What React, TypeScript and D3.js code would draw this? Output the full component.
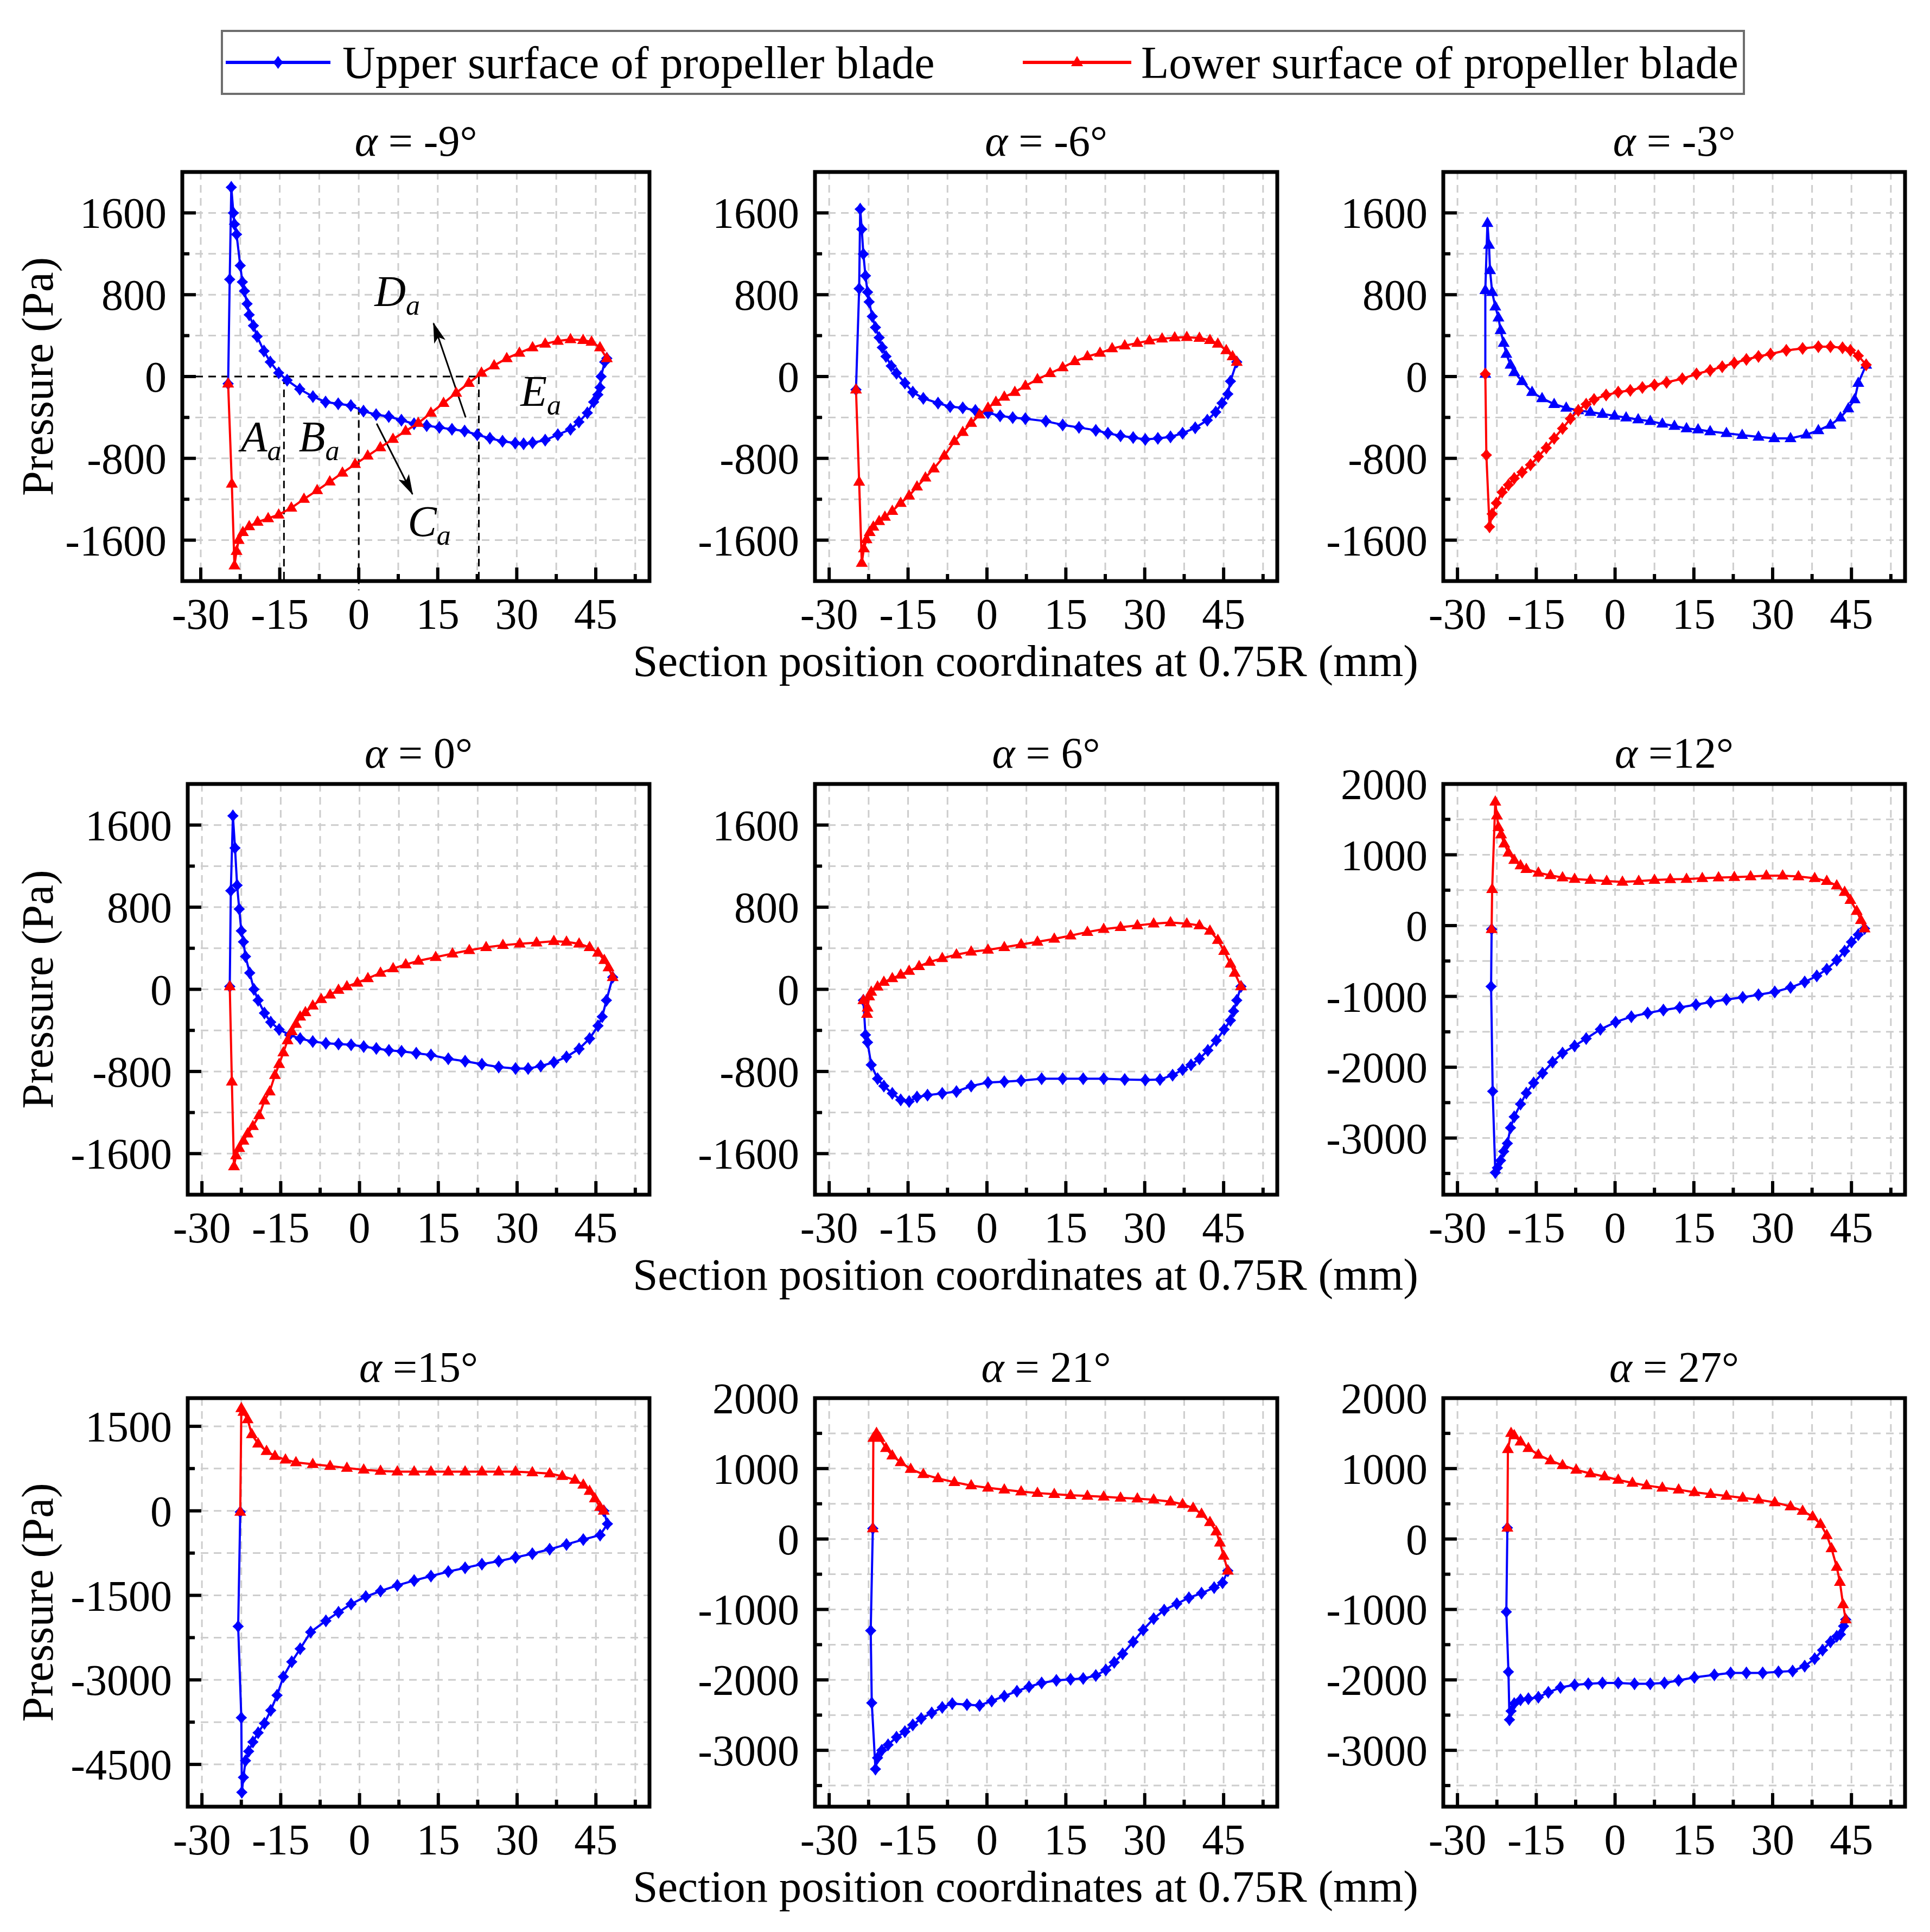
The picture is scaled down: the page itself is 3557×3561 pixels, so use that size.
import React from 'react';
import * as d3 from 'd3';

type Pt = [number, number];

const W = 3557;
const H = 3561;
const FONT = '"Liberation Serif", "Times New Roman", Times, serif';

// ---------------- data (x in mm, pressure in Pa) ----------------
const upperM9: Pt[] = [[-24.8,-70],[-24.5,950],[-24.2,1850],[-23.8,1600],[-23.6,1490],[-23.2,1390],[-22.5,1085],[-22.1,925],[-21.7,836],[-21.2,711],[-20.8,604],[-20.0,498],[-19.3,391],[-18.0,249],[-16.8,142],[-15.2,36],[-13.6,-36],[-11.2,-124],[-8.7,-196],[-6.3,-249],[-3.9,-267],[-1.5,-284],[0.9,-338],[3.3,-373],[5.7,-391],[8.1,-427],[10.5,-462],[12.9,-480],[15.3,-498],[17.7,-516],[20.1,-533],[22.5,-569],[24.9,-604],[27.3,-633],[29.7,-651],[31.3,-658],[33.0,-647],[35.4,-622],[37.8,-569],[40.2,-516],[41.8,-444],[43.4,-356],[44.6,-249],[45.4,-178],[45.8,-107],[46.0,0],[46.7,142],[47.1,178]];
const lowerM9: Pt[] = [[-24.8,-70],[-24.1,-1049],[-23.6,-1849],[-23.2,-1707],[-22.8,-1600],[-22.0,-1522],[-20.8,-1465],[-19.2,-1422],[-17.2,-1387],[-15.2,-1351],[-12.8,-1284],[-10.4,-1198],[-7.9,-1113],[-5.5,-1028],[-3.1,-942],[-0.7,-857],[1.7,-775],[4.1,-693],[6.5,-612],[8.9,-533],[11.3,-455],[13.7,-356],[16.1,-260],[18.5,-160],[20.9,-64],[23.3,36],[25.7,107],[28.1,178],[30.5,231],[33.0,284],[35.4,320],[37.8,348],[40.2,363],[42.6,356],[44.2,338],[45.8,284],[47.1,178]];

const upperM6: Pt[] = [[-24.9,-128],[-24.3,860],[-24.1,1636],[-23.8,1440],[-23.5,1198],[-23.1,985],[-22.7,825],[-22.4,729],[-21.8,587],[-21.2,480],[-20.5,380],[-19.9,284],[-19.2,196],[-18.2,103],[-17.2,32],[-15.6,-64],[-14.1,-153],[-12.1,-213],[-9.3,-260],[-7.0,-295],[-4.6,-306],[-2.2,-331],[0.2,-356],[2.5,-384],[4.9,-402],[7.3,-412],[11.2,-437],[14.4,-473],[17.5,-498],[20.7,-526],[23.0,-555],[25.4,-580],[27.8,-597],[30.1,-615],[32.5,-605],[34.9,-590],[37.2,-555],[39.6,-501],[41.9,-427],[43.5,-348],[44.7,-260],[45.8,-171],[46.3,-46],[47.5,142]];
const lowerM6: Pt[] = [[-24.9,-128],[-24.3,-1031],[-23.8,-1824],[-23.4,-1682],[-22.9,-1593],[-22.3,-1522],[-21.6,-1469],[-20.5,-1415],[-19.4,-1373],[-18.0,-1316],[-16.4,-1237],[-14.8,-1166],[-13.3,-1077],[-11.7,-989],[-10.1,-900],[-8.1,-775],[-6.2,-633],[-4.6,-544],[-3.0,-455],[-1.4,-373],[0.2,-306],[1.7,-249],[3.3,-199],[5.3,-153],[7.3,-92],[9.6,-28],[12.0,32],[14.4,89],[16.7,149],[19.1,196],[21.5,231],[23.8,274],[26.2,302],[28.6,327],[30.9,352],[33.3,370],[35.7,380],[38.0,384],[40.4,377],[42.4,356],[43.9,320],[45.5,256],[46.7,196],[47.5,142]];

const upperM3: Pt[] = [[-24.7,25],[-24.7,843],[-24.3,1500],[-24.0,1287],[-23.8,1038],[-23.4,825],[-22.8,683],[-22.2,576],[-21.8,452],[-21.2,327],[-20.7,220],[-19.9,114],[-19.2,43],[-17.7,-46],[-15.8,-153],[-13.9,-213],[-11.6,-270],[-9.3,-306],[-7.0,-331],[-4.7,-348],[-2.4,-366],[-0.1,-384],[2.1,-402],[4.4,-420],[6.7,-437],[9.0,-462],[11.3,-484],[13.6,-508],[15.8,-519],[18.1,-537],[21.2,-555],[24.2,-573],[27.3,-590],[30.3,-605],[33.4,-605],[36.4,-569],[38.7,-526],[41.0,-473],[42.9,-402],[44.4,-313],[45.6,-224],[46.3,-64],[47.8,114]];
const lowerM3: Pt[] = [[-24.7,25],[-24.5,-768],[-23.9,-1469],[-23.4,-1344],[-22.6,-1237],[-21.5,-1131],[-20.3,-1060],[-19.2,-996],[-17.7,-935],[-16.1,-864],[-14.6,-782],[-13.1,-697],[-11.6,-605],[-10.0,-508],[-8.5,-412],[-7.0,-331],[-5.5,-270],[-4.0,-224],[-1.7,-181],[0.6,-153],[2.9,-135],[5.2,-107],[7.5,-82],[9.8,-57],[12.8,-21],[15.5,25],[18.1,60],[20.4,96],[22.7,132],[25.0,167],[27.3,196],[29.6,220],[32.6,256],[35.7,274],[38.7,292],[41.0,292],[43.3,281],[44.8,256],[46.3,203],[47.8,114]];

const upper0: Pt[] = [[-24.7,28],[-24.5,960],[-24.1,1689],[-23.7,1376],[-23.3,1013],[-22.9,782],[-22.5,569],[-22.1,462],[-21.7,320],[-20.9,160],[-20.1,0],[-19.3,-107],[-18.1,-231],[-16.9,-320],[-15.3,-391],[-13.3,-444],[-11.3,-480],[-8.9,-508],[-6.4,-526],[-4.0,-533],[-1.6,-540],[0.8,-558],[3.2,-576],[5.6,-594],[8.0,-604],[10.8,-622],[13.6,-640],[16.9,-676],[20.1,-700],[23.3,-729],[26.5,-757],[29.7,-772],[32.1,-772],[34.5,-747],[37.0,-711],[39.4,-658],[41.8,-580],[43.8,-480],[45.4,-356],[46.2,-267],[47.0,-107],[48.2,117]];
const lower0: Pt[] = [[-24.7,28],[-24.3,-900],[-23.9,-1725],[-23.5,-1618],[-22.9,-1547],[-22.1,-1476],[-21.3,-1405],[-20.3,-1333],[-19.1,-1227],[-18.1,-1085],[-17.1,-996],[-16.1,-836],[-15.3,-729],[-14.5,-615],[-13.7,-498],[-12.9,-409],[-12.1,-338],[-11.3,-267],[-10.3,-224],[-8.9,-160],[-7.3,-96],[-5.6,-53],[-4.0,-7],[-2.4,28],[-0.4,64],[1.6,107],[4.0,160],[6.4,203],[8.8,242],[11.2,277],[14.5,313],[17.7,348],[20.9,380],[24.1,409],[27.3,430],[30.5,444],[33.7,455],[37.0,469],[39.4,462],[41.8,444],[43.8,409],[45.4,356],[46.6,284],[47.4,213],[48.2,117]];

const upper6: Pt[] = [[-23.5,-107],[-23.1,-444],[-22.7,-516],[-22.0,-736],[-20.8,-871],[-19.6,-942],[-18.0,-1013],[-16.4,-1077],[-14.8,-1092],[-13.3,-1049],[-11.3,-1031],[-8.5,-1013],[-5.8,-996],[-3.0,-942],[0.2,-907],[3.3,-900],[6.5,-889],[10.4,-871],[14.4,-871],[18.3,-871],[22.2,-871],[26.2,-878],[30.1,-882],[32.9,-878],[35.3,-836],[37.2,-782],[38.8,-736],[40.4,-676],[42.0,-594],[43.6,-498],[45.1,-391],[46.3,-302],[46.9,-213],[47.5,-107],[48.3,28]];
const lower6: Pt[] = [[-23.5,-107],[-22.8,-240],[-22.7,-180],[-22.4,-70],[-22.0,-25],[-20.8,25],[-19.6,71],[-18.0,107],[-16.4,142],[-14.8,178],[-12.9,224],[-10.9,267],[-8.5,302],[-5.8,338],[-3.0,366],[0.2,384],[3.3,409],[6.5,437],[9.6,462],[12.8,491],[15.9,523],[19.1,558],[22.2,587],[25.4,605],[28.6,622],[31.7,640],[34.9,651],[38.0,640],[40.4,622],[42.4,569],[43.9,480],[45.1,373],[46.3,249],[47.1,160],[48.3,28]];

const upper12: Pt[] = [[-23.5,-51],[-23.6,-859],[-23.3,-2341],[-22.8,-3488],[-22.4,-3421],[-21.8,-3318],[-21.2,-3189],[-20.5,-3076],[-19.9,-2855],[-19.2,-2701],[-18.0,-2521],[-16.9,-2366],[-15.5,-2222],[-13.8,-2083],[-11.9,-1929],[-10.0,-1800],[-7.7,-1698],[-5.5,-1595],[-2.8,-1466],[0.1,-1363],[3.1,-1286],[6.2,-1235],[9.2,-1193],[12.3,-1157],[15.4,-1116],[18.2,-1080],[21.2,-1044],[24.3,-1013],[27.3,-977],[30.4,-936],[33.4,-874],[36.1,-797],[38.4,-710],[40.3,-617],[42.2,-489],[43.7,-360],[45.0,-231],[46.3,-129],[47.5,-41]];
const lower12: Pt[] = [[-23.5,-51],[-23.4,514],[-22.8,1749],[-22.5,1553],[-22.2,1389],[-21.7,1286],[-21.1,1157],[-20.3,1029],[-19.2,926],[-18.0,849],[-16.9,797],[-14.6,746],[-12.3,710],[-10.0,679],[-7.7,658],[-4.7,643],[-1.6,628],[1.4,617],[4.5,628],[7.5,643],[10.5,653],[13.6,658],[16.6,669],[19.7,679],[22.7,684],[25.8,694],[28.8,705],[31.9,705],[34.9,694],[38.0,669],[40.3,628],[42.2,566],[43.7,473],[44.8,360],[46.0,206],[46.8,77],[47.5,-41]];

const upper15: Pt[] = [[-22.7,-20],[-23.1,-2051],[-22.5,-3672],[-22.4,-4996],[-22.1,-4731],[-21.7,-4433],[-21.1,-4268],[-20.3,-4103],[-19.3,-3937],[-18.1,-3772],[-16.9,-3540],[-15.7,-3275],[-14.5,-2945],[-12.9,-2680],[-11.3,-2448],[-9.3,-2151],[-6.4,-1952],[-4.0,-1800],[-1.6,-1654],[1.2,-1522],[4.0,-1423],[7.2,-1323],[10.4,-1237],[13.6,-1158],[16.9,-1079],[20.1,-1012],[23.3,-946],[26.5,-893],[29.7,-827],[32.9,-761],[36.2,-682],[39.4,-596],[42.6,-510],[45.8,-430],[47.2,-232],[46.5,0]];
const lower15: Pt[] = [[-22.7,-20],[-22.5,1820],[-22.1,1754],[-21.3,1621],[-20.5,1357],[-19.3,1191],[-17.7,1059],[-16.1,973],[-14.1,907],[-12.1,860],[-8.9,827],[-5.6,794],[-2.4,761],[0.8,728],[4.0,708],[7.2,695],[10.4,695],[13.6,695],[16.9,695],[20.1,695],[23.3,695],[26.5,695],[29.7,695],[32.9,682],[36.2,662],[38.6,615],[41.0,549],[42.6,463],[43.8,351],[44.8,218],[45.8,66],[46.5,0]];

const upper21: Pt[] = [[-21.7,149],[-22.1,-1301],[-21.9,-2326],[-21.2,-3266],[-20.8,-3106],[-20.0,-3000],[-18.8,-2921],[-17.2,-2814],[-15.6,-2735],[-14.1,-2639],[-12.5,-2549],[-10.5,-2469],[-8.5,-2390],[-6.6,-2336],[-3.8,-2352],[-1.4,-2363],[0.9,-2299],[3.3,-2230],[5.7,-2161],[8.0,-2097],[10.4,-2044],[13.2,-2007],[15.9,-1991],[18.3,-1981],[20.7,-1938],[22.6,-1859],[24.2,-1752],[25.8,-1630],[27.8,-1460],[29.7,-1290],[31.7,-1131],[33.7,-1009],[36.1,-919],[38.4,-834],[40.8,-770],[43.2,-690],[44.8,-621],[45.8,-451]];
const lower21: Pt[] = [[-21.7,149],[-21.6,1434],[-21.0,1503],[-20.4,1434],[-19.2,1290],[-18.0,1184],[-16.4,1089],[-14.5,993],[-12.1,919],[-9.3,860],[-6.2,807],[-3.0,759],[0.2,727],[3.3,701],[6.5,674],[9.6,653],[12.8,637],[15.9,621],[19.1,611],[22.2,600],[25.4,584],[28.6,573],[31.7,558],[34.9,531],[37.2,494],[39.2,441],[40.8,356],[42.4,239],[43.6,106],[44.3,-53],[45.0,-239],[45.8,-451]];

const upper27: Pt[] = [[-20.5,159],[-20.7,-1035],[-20.3,-1885],[-20.1,-2565],[-19.8,-2443],[-19.2,-2336],[-18.0,-2283],[-16.5,-2267],[-14.6,-2246],[-12.7,-2177],[-10.4,-2108],[-7.7,-2071],[-5.1,-2055],[-2.4,-2044],[0.6,-2044],[3.7,-2055],[6.7,-2055],[9.4,-2044],[12.1,-2007],[15.1,-1965],[18.9,-1928],[22.0,-1901],[25.0,-1901],[28.1,-1901],[31.1,-1885],[33.8,-1874],[36.1,-1805],[38.0,-1699],[39.5,-1577],[41.0,-1460],[42.2,-1381],[42.9,-1354],[43.5,-1237],[43.9,-1142]];
const lower27: Pt[] = [[-20.5,159],[-20.4,1274],[-19.8,1503],[-19.2,1471],[-18.0,1381],[-16.5,1290],[-14.6,1195],[-12.3,1115],[-10.0,1046],[-7.4,982],[-4.7,929],[-2.0,887],[0.6,839],[3.3,797],[6.0,759],[9.0,727],[12.1,701],[15.1,664],[18.2,637],[21.2,611],[24.3,584],[27.3,558],[30.4,520],[33.4,462],[35.7,398],[37.6,319],[39.1,212],[40.3,53],[41.2,-133],[42.2,-398],[42.8,-611],[43.4,-929],[43.9,-1142]];

// ---------------- ticks ----------------
const xTicks = [-30, -15, 0, 15, 30, 45];
const xMinorTicks = [-22.5, -7.5, 7.5, 22.5, 37.5, 52.5];
const yTicks800 = [-1600, -800, 0, 800, 1600];
const yMinor800 = [-1200, -400, 400, 1200];
const yTicks1000 = [-3000, -2000, -1000, 0, 1000, 2000];
const yMinor1000 = [-3500, -2500, -1500, -500, 500, 1500];
const yTicks1500 = [-4500, -3000, -1500, 0, 1500];
const yMinor1500 = [-3750, -2250, -750, 750];
const yDomain800: Pt = [-2000, 2000];
const yDomain1000: Pt = [-3800, 2000];
const yDomain1500: Pt = [-5250, 2000];

const angleLabels = ['= -9°', '= -6°', '= -3°', '= 0°', '= 6°', '=12°', '=15°', '= 21°', '= 27°'];
const legendLabels = ['Upper surface of propeller blade', 'Lower surface of propeller blade'];
const xAxisTitle = 'Section position coordinates at 0.75R (mm)';
const yAxisTitle = 'Pressure (Pa)';

// annotations of the first panel (data coordinates)
const guideSegments: [Pt, Pt][] = [
  [[-33.5, 0], [22.8, 0]],
  [[-14.2, 0], [-14.2, -2000]],
  [[0, -300], [0, -2090]],
  [[22.8, 0], [22.8, -2000]],
];
const arrowSegments: [Pt, Pt][] = [
  [[20.3, -400], [14.2, 520]],
  [[3.4, -460], [10.2, -1150]],
];
const annoLabels: [string, number, number][] = [
  ['A', -22.4, -730],
  ['B', -11.4, -730],
  ['C', 9.3, -1560],
  ['D', 3.0, 690],
  ['E', 30.7, -285],
];

// ---------------- layout ----------------
const rowTop = [317, 1445, 2577];
const rowBottom = [1071, 2202, 3330];
const colRight = [1197, 2354, 3511];
const colLeft = [[336, 1502, 2660], [346, 1502, 2660], [346, 1502, 2660]];

const BLUE = '#0000ff';
const RED = '#ff0000';

type Shape = 'star' | 'tri';

function starPath(cx: number, cy: number) {
  const a = 12, b = 10.5, i = 5;
  return `M${cx},${cy - a}L${cx + i},${cy - i}L${cx + b},${cy}L${cx + i},${cy + i}L${cx},${cy + a}L${cx - i},${cy + i}L${cx - b},${cy}L${cx - i},${cy - i}Z`;
}
function triPath(cx: number, cy: number) {
  return `M${cx},${cy - 12}L${cx + 11},${cy + 7}L${cx - 11},${cy + 7}Z`;
}
function shapePath(s: Shape, cx: number, cy: number) {
  return s === 'star' ? starPath(cx, cy) : triPath(cx, cy);
}

interface PanelCfg {
  label: string;
  upper: Pt[];
  lower: Pt[];
  yTicks: number[];
  yMinor: number[];
  yDomain: Pt;
  upperShape: Shape;
  lowerShape: Shape;
  row: number;
  col: number;
  anno?: boolean;
}

const panels: PanelCfg[] = [
  { label: angleLabels[0], upper: upperM9, lower: lowerM9, yTicks: yTicks800, yMinor: yMinor800, yDomain: yDomain800, upperShape: 'star', lowerShape: 'tri', row: 0, col: 0, anno: true },
  { label: angleLabels[1], upper: upperM6, lower: lowerM6, yTicks: yTicks800, yMinor: yMinor800, yDomain: yDomain800, upperShape: 'star', lowerShape: 'tri', row: 0, col: 1 },
  { label: angleLabels[2], upper: upperM3, lower: lowerM3, yTicks: yTicks800, yMinor: yMinor800, yDomain: yDomain800, upperShape: 'tri', lowerShape: 'star', row: 0, col: 2 },
  { label: angleLabels[3], upper: upper0, lower: lower0, yTicks: yTicks800, yMinor: yMinor800, yDomain: yDomain800, upperShape: 'star', lowerShape: 'tri', row: 1, col: 0 },
  { label: angleLabels[4], upper: upper6, lower: lower6, yTicks: yTicks800, yMinor: yMinor800, yDomain: yDomain800, upperShape: 'star', lowerShape: 'tri', row: 1, col: 1 },
  { label: angleLabels[5], upper: upper12, lower: lower12, yTicks: yTicks1000, yMinor: yMinor1000, yDomain: yDomain1000, upperShape: 'star', lowerShape: 'tri', row: 1, col: 2 },
  { label: angleLabels[6], upper: upper15, lower: lower15, yTicks: yTicks1500, yMinor: yMinor1500, yDomain: yDomain1500, upperShape: 'star', lowerShape: 'tri', row: 2, col: 0 },
  { label: angleLabels[7], upper: upper21, lower: lower21, yTicks: yTicks1000, yMinor: yMinor1000, yDomain: yDomain1000, upperShape: 'star', lowerShape: 'tri', row: 2, col: 1 },
  { label: angleLabels[8], upper: upper27, lower: lower27, yTicks: yTicks1000, yMinor: yMinor1000, yDomain: yDomain1000, upperShape: 'star', lowerShape: 'tri', row: 2, col: 2 },
];

const fmt = (v: number) => (v < 0 ? '-' + Math.abs(v) : String(v));

function Panel({ p }: { p: PanelCfg }) {
  const left = colLeft[p.row][p.col];
  const right = colRight[p.col];
  const top = rowTop[p.row];
  const bottom = rowBottom[p.row];
  const xDomainLeft = p.row === 0 && p.col === 0 ? -33.5 : -32.7;
  const x = d3.scaleLinear().domain([xDomainLeft, 55.2]).range([left, right]);
  const y = d3.scaleLinear().domain(p.yDomain).range([bottom, top]);
  const line = d3.line<Pt>().x((d) => x(d[0])).y((d) => y(d[1]));

  const gx = [...xTicks, ...xMinorTicks].filter((v) => x(v) > left + 3 && x(v) < right - 3);
  const gy = [...p.yTicks, ...p.yMinor].filter((v) => y(v) > top + 3 && y(v) < bottom - 3);

  const markers = (pts: Pt[], s: Shape) => pts.map((d) => shapePath(s, x(d[0]), y(d[1]))).join('');

  return (
    <g>
      {/* grid */}
      <g stroke="#cdcdcd" strokeWidth={3} strokeDasharray="14,10">
        {gx.map((v) => (
          <line key={'gx' + v} x1={x(v)} x2={x(v)} y1={top} y2={bottom} />
        ))}
        {gy.map((v) => (
          <line key={'gy' + v} x1={left} x2={right} y1={y(v)} y2={y(v)} />
        ))}
      </g>

      {/* annotations */}
      {p.anno && (
        <g>
          <g stroke="#000" strokeWidth={3} strokeDasharray="14,10" fill="none">
            {guideSegments.map((s, i) => (
              <line key={'gs' + i} x1={x(s[0][0])} y1={y(s[0][1])} x2={x(s[1][0])} y2={y(s[1][1])} />
            ))}
          </g>
          <g stroke="#000" strokeWidth={3}>
            {arrowSegments.map((s, i) => (
              <line key={'ar' + i} x1={x(s[0][0])} y1={y(s[0][1])} x2={x(s[1][0])} y2={y(s[1][1])} markerEnd="url(#arrowhead)" />
            ))}
          </g>
          {annoLabels.map((l) => (
            <text key={l[0]} x={x(l[1])} y={y(l[2])} fontSize={80} fontStyle="italic" fill="#000">
              {l[0]}
              <tspan fontSize={52} dy={16}>a</tspan>
            </text>
          ))}
        </g>
      )}

      {/* series */}
      <path d={line(p.upper) || ''} fill="none" stroke={BLUE} strokeWidth={4} strokeLinejoin="round" />
      <path d={markers(p.upper, p.upperShape)} fill={BLUE} stroke="none" />
      <path d={line(p.lower) || ''} fill="none" stroke={RED} strokeWidth={4} strokeLinejoin="round" />
      <path d={markers(p.lower, p.lowerShape)} fill={RED} stroke="none" />

      {/* ticks */}
      <g stroke="#000" strokeWidth={6}>
        {xTicks.map((v) => (
          <line key={'xt' + v} x1={x(v)} x2={x(v)} y1={bottom} y2={bottom - 25} />
        ))}
        {xMinorTicks.map((v) => (
          <line key={'xm' + v} x1={x(v)} x2={x(v)} y1={bottom} y2={bottom - 13} />
        ))}
        {p.yTicks.map((v) => (
          <line key={'yt' + v} x1={left} x2={left + 25} y1={y(v)} y2={y(v)} />
        ))}
        {p.yMinor.map((v) => (
          <line key={'ym' + v} x1={left} x2={left + 13} y1={y(v)} y2={y(v)} />
        ))}
      </g>

      {/* frame */}
      <rect x={left} y={top} width={right - left} height={bottom - top} fill="none" stroke="#000" strokeWidth={7} />

      {/* tick labels */}
      <g fontSize={80} fill="#000">
        {xTicks.map((v) => (
          <text key={'xl' + v} x={x(v)} y={bottom + 88} textAnchor="middle">
            {fmt(v)}
          </text>
        ))}
        {p.yTicks.map((v) => (
          <text key={'yl' + v} x={left - 29} y={y(v)} dy="0.35em" textAnchor="end">
            {fmt(v)}
          </text>
        ))}
      </g>

      {/* title */}
      <text x={(left + right) / 2} y={top - 30} textAnchor="middle" fontSize={80} fill="#000">
        <tspan fontStyle="italic">α</tspan> {p.label}
      </text>
    </g>
  );
}

function Legend() {
  const cy = 115;
  const items = [
    { x1: 416, x2: 609, tx: 631, color: BLUE, shape: 'star' as Shape, label: legendLabels[0] },
    { x1: 1885, x2: 2085, tx: 2103, color: RED, shape: 'tri' as Shape, label: legendLabels[1] },
  ];
  return (
    <g>
      <rect x={409} y={57} width={2805} height={116} fill="#fff" stroke="#6e6e6e" strokeWidth={4} />
      {items.map((it) => (
        <g key={it.label}>
          <line x1={it.x1} x2={it.x2} y1={cy} y2={cy} stroke={it.color} strokeWidth={6} />
          <path d={shapePath(it.shape, (it.x1 + it.x2) / 2, cy)} fill={it.color} />
          <text x={it.tx} y={cy} dy="0.35em" fontSize={84} fill="#000">
            {it.label}
          </text>
        </g>
      ))}
    </g>
  );
}

export default function App() {
  const xTitleBaselines = [1246, 2377, 3505];
  return (
    <svg
      width={W}
      height={H}
      viewBox={`0 0 ${W} ${H}`}
      style={{ position: 'absolute', left: 0, top: 0, display: 'block', background: '#fff' }}
      fontFamily={FONT}
    >
      <defs>
        <marker id="arrowhead" markerUnits="userSpaceOnUse" markerWidth={40} markerHeight={22} refX={36} refY={11} orient="auto">
          <path d="M0,0 L38,11 L0,22 L9,11 Z" fill="#000" />
        </marker>
      </defs>
      <rect x={0} y={0} width={W} height={H} fill="#fff" />
      <Legend />
      {panels.map((p, i) => (
        <Panel key={i} p={p} />
      ))}
      {xTitleBaselines.map((b, i) => (
        <text key={'xt' + i} x={1890} y={b} textAnchor="middle" fontSize={83} fill="#000">
          {xAxisTitle}
        </text>
      ))}
      {[0, 1, 2].map((r) => (
        <text
          key={'yt' + r}
          transform={`translate(68, ${(rowTop[r] + rowBottom[r]) / 2}) rotate(-90)`}
          textAnchor="middle"
          dy="0.35em"
          fontSize={83}
          fill="#000"
        >
          {yAxisTitle}
        </text>
      ))}
    </svg>
  );
}
